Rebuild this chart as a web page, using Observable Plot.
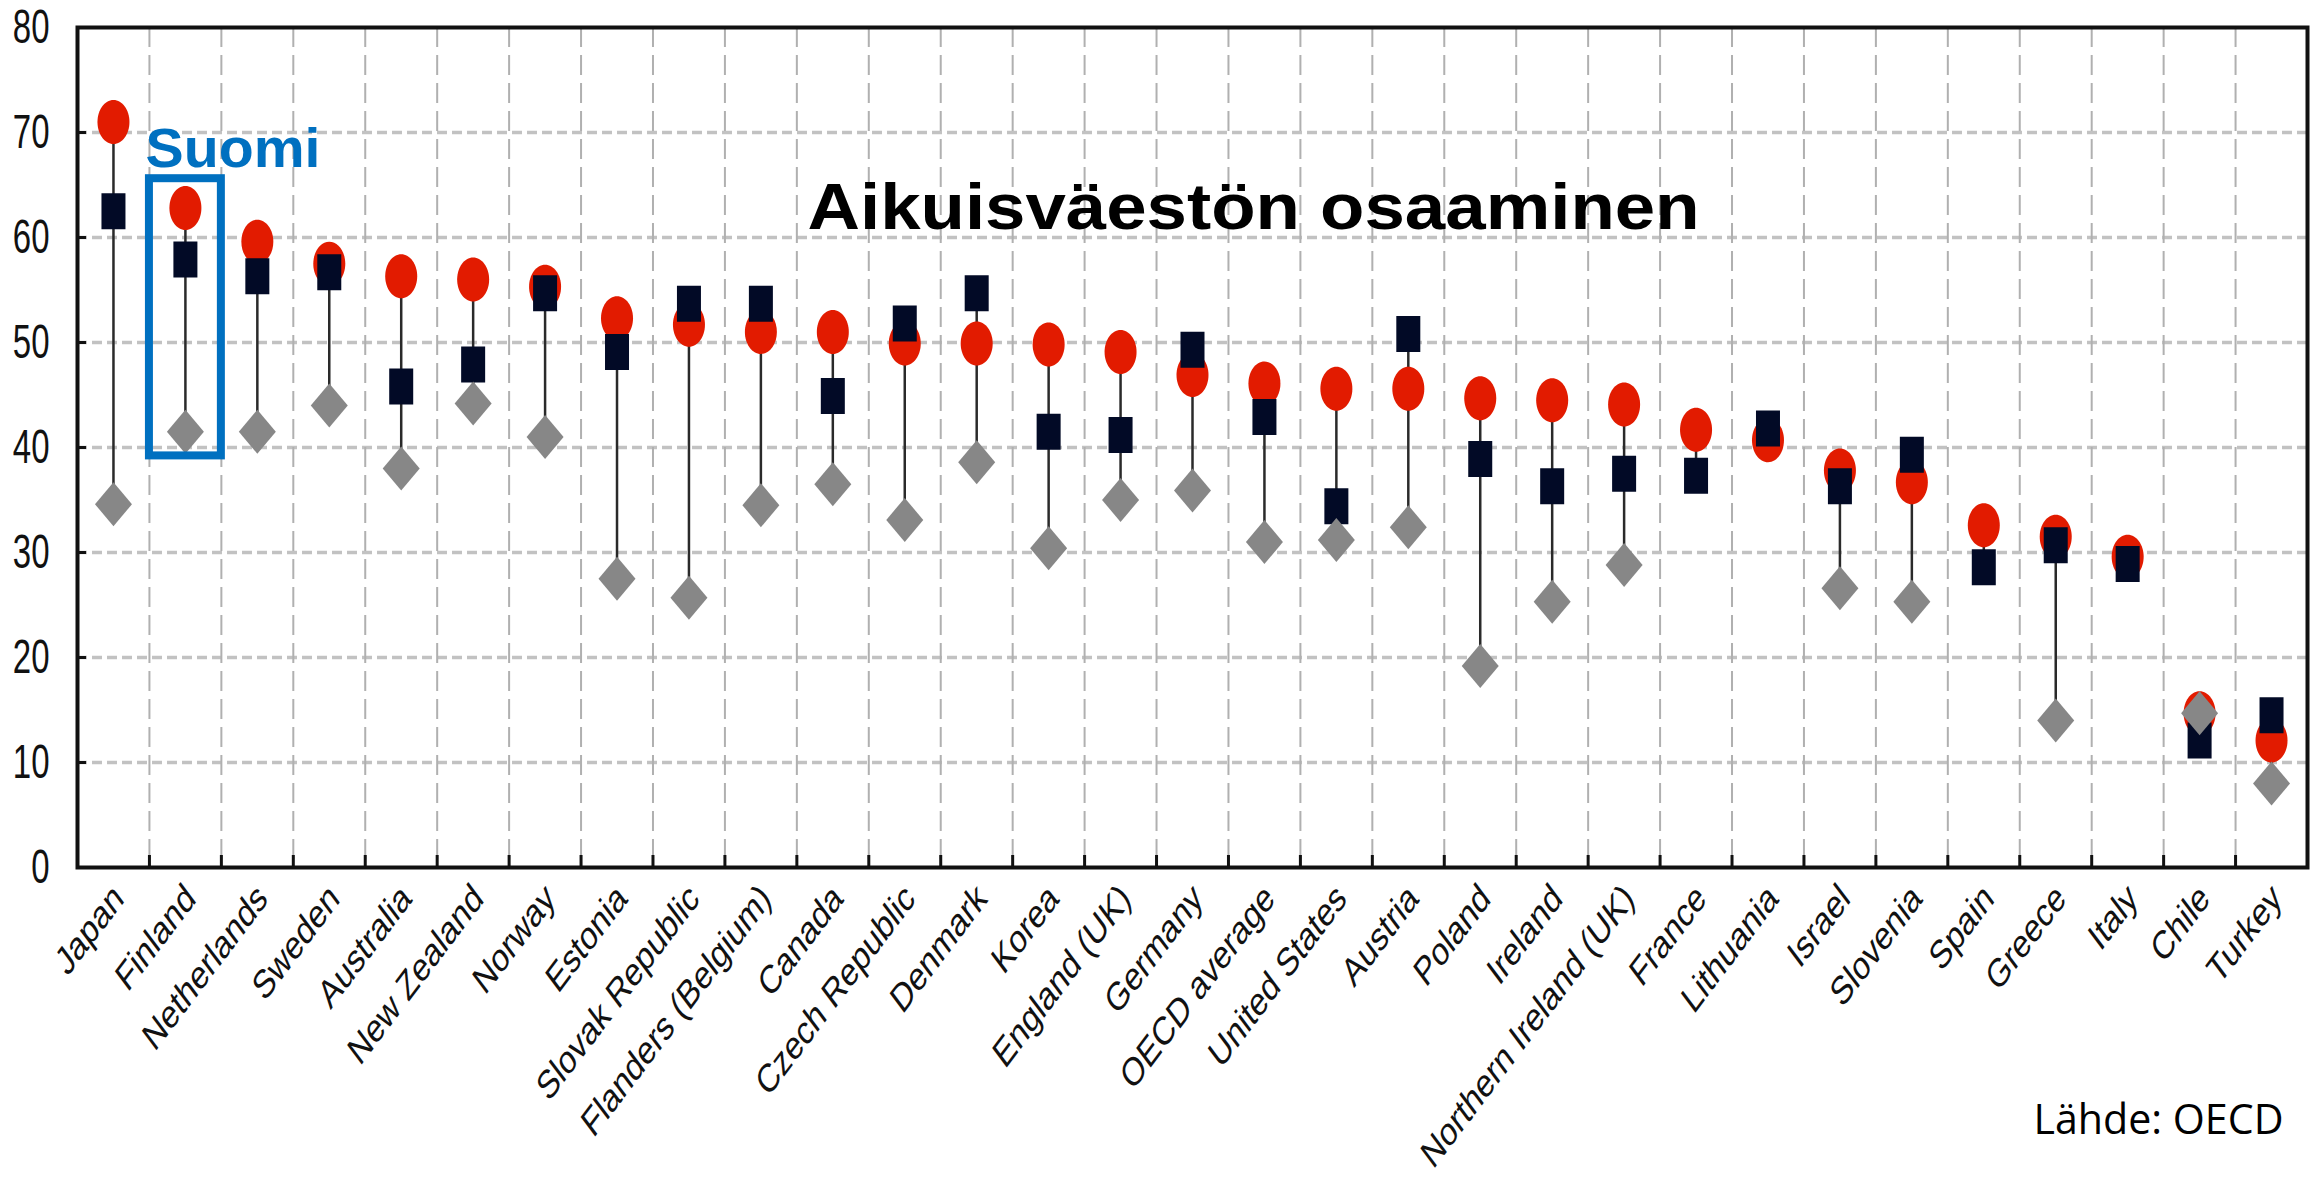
<!DOCTYPE html>
<html>
<head>
<meta charset="utf-8">
<script src="https://cdn.jsdelivr.net/npm/d3@7"></script>
<script src="https://cdn.jsdelivr.net/npm/@observablehq/plot@0.6"></script>
<style>
  html, body { margin: 0; padding: 0; background: #fff; overflow: hidden; }
</style>
</head>
<body>
<div id="chart"></div>
<script>
// ---------- data ----------
const countries = [
  "Japan", "Finland", "Netherlands", "Sweden", "Australia", "New Zealand", "Norway",
  "Estonia", "Slovak Republic", "Flanders (Belgium)", "Canada", "Czech Republic",
  "Denmark", "Korea", "England (UK)", "Germany", "OECD average", "United States",
  "Austria", "Poland", "Ireland", "Northern Ireland (UK)", "France", "Lithuania",
  "Israel", "Slovenia", "Spain", "Greece", "Italy", "Chile", "Turkey"
];
// red circles
const circleValues = [
  71.0, 62.8, 59.6, 57.5, 56.3, 56.0, 55.3,
  52.3, 51.7, 51.0, 51.0, 49.9,
  49.9, 49.8, 49.1, 46.9, 46.1, 45.6,
  45.6, 44.7, 44.5, 44.1, 41.7, 40.7,
  37.8, 36.7, 32.6, 31.5, 29.6, 14.7, 12.1
];
// dark squares
const squareValues = [
  62.5, 57.9, 56.3, 56.7, 45.8, 47.9, 54.7,
  49.1, 53.7, 53.7, 44.9, 51.8,
  54.7, 41.5, 41.2, 49.3, 42.9, 34.4,
  50.8, 38.9, 36.3, 37.5, 37.3, 41.8,
  36.3, 39.3, 28.6, 30.7, 28.9, 12.1, 14.5
];
// grey diamonds
const diamondValues = [
  34.6, 41.5, 41.5, 44.0, 38.0, 44.2, 41.0,
  27.5, 25.7, 34.5, 36.5, 33.1,
  38.6, 30.4, 35.0, 35.9, 31.0, 31.2,
  32.4, 19.2, 25.3, 28.8, null, null,
  26.6, 25.3, null, 14.0, null, 14.7, 8.0
];
const yTicks = [0, 10, 20, 30, 40, 50, 60, 70, 80];
const yGrid = [10, 20, 30, 40, 50, 60, 70];
const titleText = "Aikuisväestön osaaminen";
const highlightCountry = "Finland";
const highlightLabel = "Suomi";
const highlightRange = [39.2, 65.6];
const sourceText = "Lähde: OECD";

// ---------- table ----------
const rows = countries.map((c, i) => {
  const vals = [circleValues[i], squareValues[i], diamondValues[i]].filter(v => v != null);
  return {country: c, circle: circleValues[i], square: squareValues[i], diamond: diamondValues[i],
          lo: d3.min(vals), hi: d3.max(vals)};
});

// ---------- layout ----------
const W = 2323, H = 1182;
const mL = 77, mR = 16, mT = 27, mB = 315;
const plotW = W - mL - mR;
const bw = plotW / countries.length;
const xStretch = 1.33;  // vertical stretch of the rotated category labels
const yStretch = 1.45;  // vertical stretch of the value labels

// custom symbols (the original graphic is stretched vertically)
const ellipseSym = {draw(ctx) {
  const a = 16, b = 22, k = 0.5523;
  ctx.moveTo(a, 0);
  ctx.bezierCurveTo(a, b * k, a * k, b, 0, b);
  ctx.bezierCurveTo(-a * k, b, -a, b * k, -a, 0);
  ctx.bezierCurveTo(-a, -b * k, -a * k, -b, 0, -b);
  ctx.bezierCurveTo(a * k, -b, a, -b * k, a, 0);
  ctx.closePath();
}};
const rectSym = {draw(ctx) { ctx.rect(-12, -18, 24, 36); }};
const diamondSym = {draw(ctx) {
  ctx.moveTo(0, -22); ctx.lineTo(18.5, 0); ctx.lineTo(0, 22); ctx.lineTo(-18.5, 0); ctx.closePath();
}};

const chart = Plot.plot({
  width: W, height: H,
  marginLeft: mL, marginRight: mR, marginTop: mT, marginBottom: mB,
  x: {domain: countries, padding: 0, round: false},
  y: {domain: [0, 80]},
  style: {background: "white", color: "#111"},
  marks: [
    // grid
    Plot.ruleY(yGrid, {stroke: "#c2c2c2", strokeWidth: 3.5, strokeDasharray: "10,5"}),
    Plot.ruleX(countries.slice(1), {x: d => d, dx: -bw / 2, stroke: "#b0b0b0", strokeWidth: 2, strokeDasharray: "20,8"}),
    // inward ticks
    Plot.ruleX(countries.slice(1), {x: d => d, dx: -bw / 2, y1: 0, y2: 0, insetTop: -12, stroke: "#111", strokeWidth: 3}),
    Plot.ruleY(yGrid, {insetRight: plotW - 9, stroke: "#111", strokeWidth: 3}),
    // axes
    Plot.axisY(yTicks, {tickSize: 0, tickPadding: 28, fontSize: 33, fontFamily: "'Liberation Sans Narrow', 'Liberation Sans', Arial, sans-serif", label: null}),
    Plot.axisX({tickSize: 0, tickRotate: -45, tickPadding: 24, dx: 5, fontSize: 30, fontFamily: "'Liberation Sans', Arial, sans-serif", label: null}),
    // stems
    Plot.ruleX(rows, {x: "country", y1: "lo", y2: "hi", stroke: "#2a2a2a", strokeWidth: 2.5}),
    // markers
    Plot.dot(rows, {x: "country", y: "circle", symbol: ellipseSym, fill: "#e21b00", stroke: "none"}),
    Plot.dot(rows, {x: "country", y: "square", symbol: rectSym, fill: "#020a26", stroke: "none"}),
    Plot.dot(rows.filter(d => d.diamond != null), {x: "country", y: "diamond", symbol: diamondSym, fill: "#878787", stroke: "none"}),
    // frame
    Plot.frame({stroke: "#111", strokeWidth: 4}),
    // highlight box and label
    Plot.barY([highlightCountry], {x: d => d, y1: () => highlightRange[0], y2: () => highlightRange[1],
      fill: "none", stroke: "#0070c0", strokeWidth: 8, insetLeft: 0, insetRight: 0}),
    Plot.text([highlightLabel], {frameAnchor: "top-left", dx: 68, dy: 139, text: d => d, textAnchor: "start",
      lineAnchor: "bottom", fontSize: 55, fontWeight: "bold", fill: "#0070c0",
      fontFamily: "'Liberation Sans', Arial, sans-serif"}),
    // title inside the plot
    Plot.text([titleText], {frameAnchor: "top-left", dx: 730, dy: 201, text: d => d, textAnchor: "start",
      lineAnchor: "bottom", fontSize: 64, fontWeight: "bold", fill: "#000",
      fontFamily: "'Liberation Sans', Arial, sans-serif"}),
    // source
    Plot.text([sourceText], {frameAnchor: "bottom-right", dx: -24, dy: 266, text: d => d, textAnchor: "end",
      lineAnchor: "bottom", fontSize: 42, fill: "#000",
      fontFamily: "'Open Sans', 'Noto Sans', sans-serif"})
  ]
});

document.getElementById("chart").appendChild(chart);

// emulate the vertical stretch of the original graphic on the tick labels
const sel = d3.select(chart);
sel.selectAll('g[aria-label="x-axis tick label"] text').attr("transform", function() {
  const t = this.getAttribute("transform") || "";
  return t.includes("rotate(") ? t.replace("rotate(", `scale(1,${xStretch}) rotate(`) : t + ` scale(1,${xStretch}) rotate(-45)`;
});
sel.selectAll('g[aria-label="y-axis tick label"] text').attr("transform", function() {
  const t = this.getAttribute("transform") || "";
  return t + ` scale(1,${yStretch})`;
});
function fitText(content, len) {
  sel.selectAll("text").filter(function() { return this.textContent === content; })
    .attr("textLength", len).attr("lengthAdjust", "spacingAndGlyphs");
}
fitText(titleText, 892);
fitText(highlightLabel, 175);
fitText(sourceText, 250);
</script>
</body>
</html>
